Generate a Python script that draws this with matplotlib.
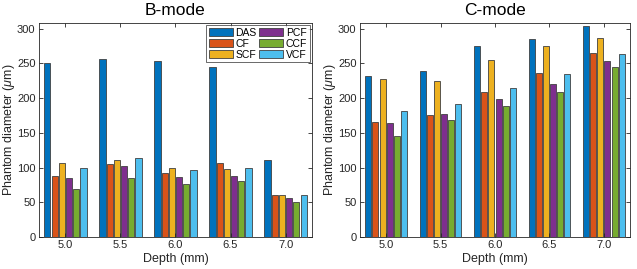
import numpy
import matplotlib
matplotlib.use("Agg")
import matplotlib.pyplot as pyplot

# --- Data ---
depths = ["5.0", "5.5", "6.0", "6.5", "7.0"]
methods = ["DAS", "CF", "SCF", "PCF", "CCF", "VCF"]

bmode_DAS = [251, 256, 253, 244, 111]
bmode_CF = [88, 105, 92, 106, 60]
bmode_SCF = [106, 111, 99, 98, 61]
bmode_PCF = [85, 102, 86, 88, 56]
bmode_CCF = [69, 85, 77, 80, 51]
bmode_VCF = [99, 114, 96, 99, 60]

cmode_DAS = [232, 239, 275, 285, 304]
cmode_CF = [166, 176, 208, 236, 265]
cmode_SCF = [228, 224, 255, 275, 286]
cmode_PCF = [164, 177, 198, 220, 254]
cmode_CCF = [145, 168, 189, 208, 244]
cmode_VCF = [181, 191, 214, 235, 264]

colors = [
    (0.0, 0.447, 0.741),
    (0.850, 0.325, 0.098),
    (0.929, 0.694, 0.125),
    (0.494, 0.184, 0.556),
    (0.466, 0.674, 0.188),
    (0.301, 0.745, 0.933),
]

pyplot.rcParams["font.family"] = ["Liberation Sans", "DejaVu Sans"]
pyplot.rcParams["mathtext.fontset"] = "custom"
pyplot.rcParams["mathtext.it"] = "Liberation Sans:italic"

edgeColor = (0.25, 0.25, 0.25)
axisColor = (0.15, 0.15, 0.15)


def drawPanel(axis, series, title, showLegend, labelX):
    positions = numpy.arange(1, len(depths) + 1)
    slot = 0.131
    width = 0.112
    for index, (values, name) in enumerate(zip(series, methods)):
        offset = (index - (len(series) - 1) / 2.0) * slot
        axis.bar(
            positions + offset, values, width,
            color=colors[index], edgecolor=edgeColor, linewidth=0.6,
            label=name
        )
    axis.set_xticks(positions)
    axis.set_xticklabels(depths)
    axis.set_xlim(0.52, 5.48)
    axis.set_ylim(0, 308)
    axis.set_yticks([0, 50, 100, 150, 200, 250, 300])
    axis.set_title(title, fontsize=12.5, pad=6)
    axis.set_xlabel("Depth (mm)", fontsize=9, color=axisColor, labelpad=2)
    axis.set_ylabel("Phantom diameter ($\\mu$m)", fontsize=9, color=axisColor)
    axis.yaxis.set_label_coords(labelX, 0.5)
    axis.tick_params(direction="in", top=True, right=True, labelsize=8,
                     length=3, width=0.6, colors=axisColor, pad=2.5)
    for spine in axis.spines.values():
        spine.set_color(axisColor)
        spine.set_linewidth(0.6)
    if showLegend:
        legend = axis.legend(
            ncol=2, loc="upper right", fontsize=7.5, frameon=True,
            handlelength=2.3, handleheight=0.75, handletextpad=0.25,
            columnspacing=0.25, labelspacing=0.1, borderpad=0.25,
            borderaxespad=0.2, fancybox=False
        )
        legend.get_frame().set_edgecolor(axisColor)
        legend.get_frame().set_linewidth(0.6)


figure, (leftAxis, rightAxis) = pyplot.subplots(1, 2)
figure.set_size_inches(6.37, 2.69)
figure.set_dpi(100)

drawPanel(leftAxis,
          [bmode_DAS, bmode_CF, bmode_SCF, bmode_PCF, bmode_CCF, bmode_VCF],
          "B-mode", True, -0.081)
drawPanel(rightAxis,
          [cmode_DAS, cmode_CF, cmode_SCF, cmode_PCF, cmode_CCF, cmode_VCF],
          "C-mode", False, -0.082)

leftAxis.set_position([39 / 637, 1 - 237 / 269, 273 / 637, 214 / 269])
rightAxis.set_position([360 / 637, 1 - 237 / 269, 270 / 637, 214 / 269])

figure.savefig("out.png", dpi=100)
